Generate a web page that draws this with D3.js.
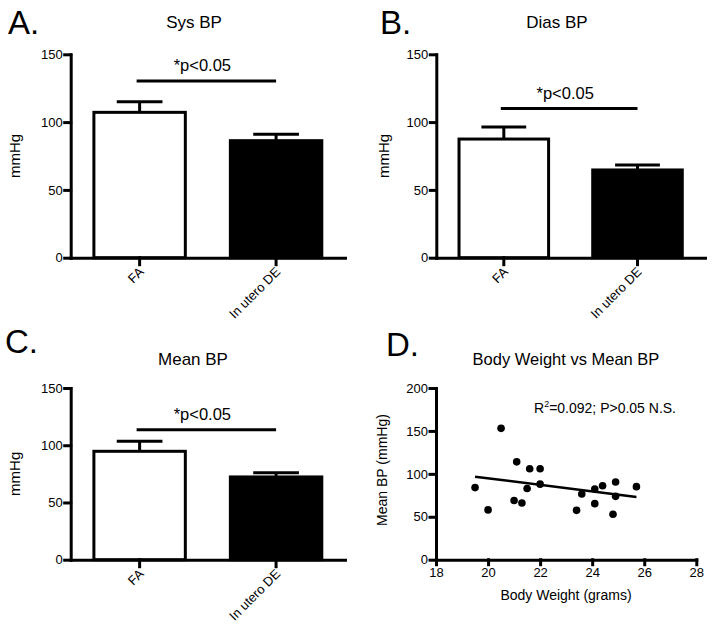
<!DOCTYPE html>
<html>
<head>
<meta charset="utf-8">
<script src="https://cdn.jsdelivr.net/npm/d3@7"></script>
<style>
  body { margin: 0; background: #fff; }
  svg { font-family: "Liberation Sans", Arial, sans-serif; }
  .axis path, .axis line { stroke: #000; stroke-width: 3px; stroke-linecap: square; }
  .axis text { font-size: 13px; fill: #000; font-family: "Liberation Sans", Arial, sans-serif; }
</style>
</head>
<body>
<script>
// Data
var categories = ["FA", "In utero DE"];
var sysMean = [107.2, 86.3];
var sysSem = [7.8, 4.7];
var diasMean = [87.5, 64.7];
var diasSem = [8.9, 3.7];
var meanMean = [94.7, 72.3];
var meanSem = [8.8, 3.7];
var sigLevel = [130.3, 110, 113.6];
var barTicks = [0, 50, 100, 150];

var bodyWeight = [19.5, 20.0, 20.5, 21.1, 21.0, 21.3, 21.6, 21.5, 22.0, 22.0, 23.4, 23.6, 24.1, 24.1, 24.4, 24.8, 24.9, 24.9, 25.7];
var meanBP     = [84,   58,   153,  114,  69,   66,   106,  83,   106,  88,   57.5, 76.5, 82.4, 65.3, 86.2, 52.9, 90.5, 73.8, 85.1];
var fitX = [19.5, 25.7];
var fitY = [96.7, 73];
var scatterXTicks = [18, 20, 22, 24, 26, 28];
var scatterYTicks = [0, 50, 100, 150, 200];

var svg = d3.select("body").append("svg")
    .attr("width", 714)
    .attr("height", 626);

// Draws one bar panel
function barPanel(opt) {
    var g = svg.append("g");
    var x = d3.scaleBand()
        .domain(categories)
        .range([opt.left, opt.right])
        .paddingInner(0.33)
        .paddingOuter(0.17);
    var y = d3.scaleLinear()
        .domain([0, 150])
        .range([opt.bottom, opt.top]);

    // bars
    g.selectAll(".bar")
        .data(opt.means)
        .enter().append("rect")
        .attr("x", function(d, i) { return x(categories[i]); })
        .attr("y", function(d) { return y(d); })
        .attr("width", x.bandwidth())
        .attr("height", function(d) { return y(0) - y(d); })
        .attr("fill", function(d, i) { return i == 0 ? "#fff" : "#000"; })
        .attr("stroke", "#000")
        .attr("stroke-width", 3);

    // upper error bars
    opt.means.forEach(function(m, i) {
        var cx = x(categories[i]) + x.bandwidth() / 2;
        g.append("line")
            .attr("x1", cx).attr("x2", cx)
            .attr("y1", y(m)).attr("y2", y(m + opt.sem[i]))
            .attr("stroke", "#000").attr("stroke-width", 3);
        g.append("line")
            .attr("x1", cx - x.bandwidth() * 0.25).attr("x2", cx + x.bandwidth() * 0.25)
            .attr("y1", y(m + opt.sem[i])).attr("y2", y(m + opt.sem[i]))
            .attr("stroke", "#000").attr("stroke-width", 3);
    });

    // significance bar
    var x0 = x(categories[0]) + x.bandwidth() / 2 - 3;
    var x1 = x(categories[1]) + x.bandwidth() / 2;
    g.append("line")
        .attr("x1", x0).attr("x2", x1)
        .attr("y1", y(opt.sig)).attr("y2", y(opt.sig))
        .attr("stroke", "#000").attr("stroke-width", 3);
    g.append("text")
        .attr("x", (x0 + x1) / 2 - 4)
        .attr("y", y(opt.sig) - 10)
        .attr("text-anchor", "middle")
        .style("font-size", "16.5px")
        .text("*p<0.05");

    // axes
    g.append("g")
        .attr("class", "axis")
        .attr("transform", "translate(" + opt.left + ",0)")
        .call(d3.axisLeft(y).tickValues(barTicks).tickSize(6).tickSizeOuter(0).tickPadding(2));

    var xAxis = g.append("g")
        .attr("class", "axis")
        .attr("transform", "translate(0," + opt.bottom + ")")
        .call(d3.axisBottom(x).tickSize(7).tickSizeOuter(0));
    xAxis.selectAll("text").remove();
    xAxis.selectAll(".tick").append("text")
        .attr("transform", "translate(5,15) rotate(-45)")
        .attr("text-anchor", "end")
        .attr("fill", "#000")
        .text(function(d) { return d; });

    // title, y label, panel letter
    g.append("text")
        .attr("x", opt.titleX).attr("y", opt.titleY)
        .attr("text-anchor", "middle")
        .style("font-size", "17px")
        .text(opt.title);
    g.append("text")
        .attr("transform", "translate(" + opt.ylabX + "," + (opt.top + opt.bottom) / 2 + ") rotate(-90)")
        .attr("text-anchor", "middle")
        .style("font-size", "15px")
        .text("mmHg");
    g.append("text")
        .attr("x", opt.letterX).attr("y", opt.letterY)
        .style("font-size", "33px")
        .text(opt.letter);
}

barPanel({letter: "A.", letterX: 8, letterY: 34, title: "Sys BP", titleX: 194, titleY: 28,
    left: 70.7, right: 345, top: 54.3, bottom: 257.7, ylabX: 20,
    means: sysMean, sem: sysSem, sig: sigLevel[0]});
barPanel({letter: "B.", letterX: 380, letterY: 34, title: "Dias BP", titleX: 557, titleY: 28,
    left: 436.3, right: 705, top: 54.3, bottom: 257.7, ylabX: 389,
    means: diasMean, sem: diasSem, sig: sigLevel[1]});
barPanel({letter: "C.", letterX: 5, letterY: 353, title: "Mean BP", titleX: 193, titleY: 365,
    left: 70.7, right: 345, top: 388, bottom: 559.7, ylabX: 20,
    means: meanMean, sem: meanSem, sig: sigLevel[2]});

// Panel D: scatter with regression line
var gd = svg.append("g");
var xs = d3.scaleLinear().domain([18, 28]).range([436, 696.3]);
var ys = d3.scaleLinear().domain([0, 200]).range([559.7, 388]);

gd.append("g")
    .attr("class", "axis")
    .attr("transform", "translate(0,559.7)")
    .call(d3.axisBottom(xs).tickValues(scatterXTicks).tickSize(5).tickSizeOuter(0).tickPadding(3));
gd.append("g")
    .attr("class", "axis")
    .attr("transform", "translate(436,0)")
    .call(d3.axisLeft(ys).tickValues(scatterYTicks).tickSize(6).tickSizeOuter(0).tickPadding(2));

gd.selectAll(".dot")
    .data(bodyWeight)
    .enter().append("circle")
    .attr("class", "dot")
    .attr("cx", function(d) { return xs(d); })
    .attr("cy", function(d, i) { return ys(meanBP[i]); })
    .attr("r", 3.8)
    .attr("fill", "#000");

gd.append("line")
    .attr("x1", xs(fitX[0])).attr("y1", ys(fitY[0]))
    .attr("x2", xs(fitX[1])).attr("y2", ys(fitY[1]))
    .attr("stroke", "#000").attr("stroke-width", 2.5);

var ann = gd.append("text")
    .attr("x", 534).attr("y", 413)
    .style("font-size", "14px");
ann.append("tspan").text("R");
ann.append("tspan").attr("dy", -6).style("font-size", "9px").text("2");
ann.append("tspan").attr("dy", 6).text("=0.092; P>0.05 N.S.");

gd.append("text")
    .attr("x", 566).attr("y", 365)
    .attr("text-anchor", "middle")
    .style("font-size", "16.5px")
    .text("Body Weight vs Mean BP");
gd.append("text")
    .attr("x", 566).attr("y", 600)
    .attr("text-anchor", "middle")
    .style("font-size", "14px")
    .text("Body Weight (grams)");
gd.append("text")
    .attr("transform", "translate(387,470) rotate(-90)")
    .attr("text-anchor", "middle")
    .style("font-size", "14px")
    .text("Mean BP (mmHg)");
gd.append("text")
    .attr("x", 386).attr("y", 356)
    .style("font-size", "33px")
    .text("D.");
</script>
</body>
</html>
